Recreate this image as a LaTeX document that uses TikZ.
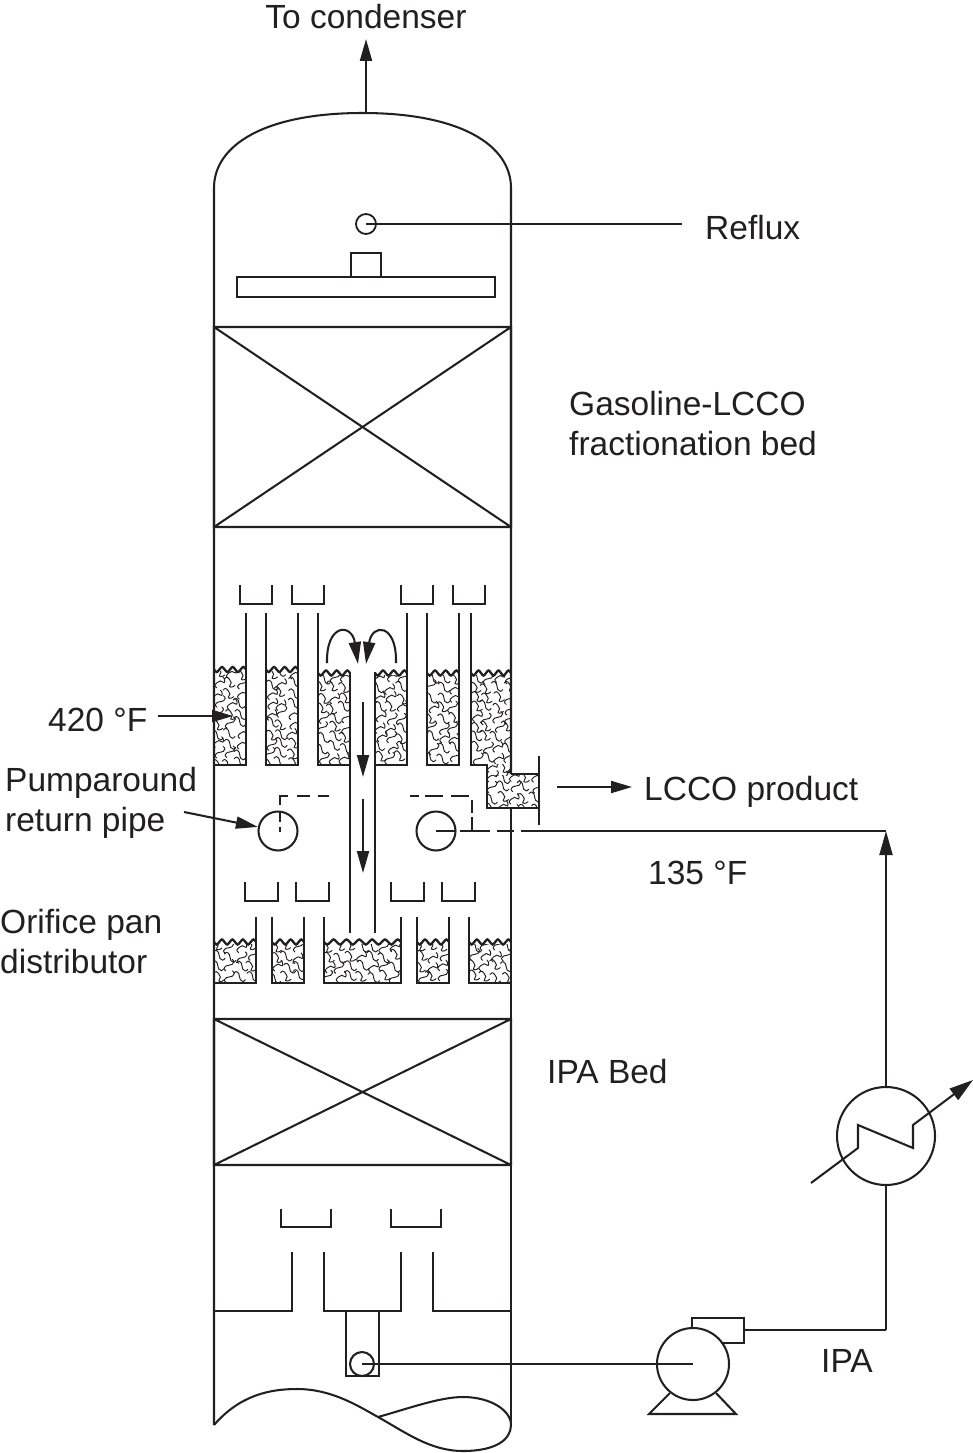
\documentclass[tikz,border=0pt]{standalone}
\usepackage{fontspec}
\setmainfont{Liberation Sans}
\usetikzlibrary{arrows.meta}
\definecolor{ink}{HTML}{231F20}
\tikzset{
  wall/.style={line width=2.05pt,draw=ink,line cap=butt},
  thickwall/.style={line width=2.7pt,draw=ink,line cap=butt,line join=miter},
  thin wall/.style={line width=1.8pt,draw=ink},
  flowarrow/.style={wall,-{Stealth[length=22pt,width=12pt,inset=0pt]}},
  lab/.style={inner sep=0pt,anchor=base west,text=ink,font=\fontsize{33.5}{38}\selectfont},
}
\newcommand{\packing}[4]{%
  \begin{scope}
    \clip (#1,#2) rectangle (#3,#4);
    \foreach \px in {#1,\the\numexpr#1+11\relax,...,#3}{
      \foreach \py in {#2,\the\numexpr#2+10\relax,...,#4}{
        \pgfmathsetmacro{\ax}{\px-4+rnd*4}
        \pgfmathsetmacro{\ay}{\py-3+rnd*4}
        \pgfmathsetmacro{\sgn}{rnd<0.5 ? 1 : -1}
        \pgfmathsetmacro{\rot}{rnd<0.6 ? 0 : 90}
        \draw[line width=0.95pt,draw=ink,line cap=round,rotate around={\rot:(\ax+6,\ay+3)}]
          (\ax,\ay) .. controls +(2,-2.5) and +(-2,-2.5) .. ++(5,0.5)
          .. controls +(2,2.5) and +(-\sgn*2,-2) .. ++(\sgn*0.5+1,6)
          .. controls +(\sgn*2,2) and +(-2,2.5) .. ++(5,0);
      }
    }
  \end{scope}}
% x1, x2, baseline y, number of waves
\newcommand{\scallop}[4]{%
  \pgfmathsetmacro{\st}{(#2-#1)/#4}
  \draw[line width=2.3pt,draw=ink] (#1,#3)
    \foreach \k in {1,...,#4}{
      .. controls +(\st*0.25,3.4) and +(-\st*0.25,3.4) .. ++(\st*0.5,0)
      .. controls +(\st*0.25,-3.4) and +(-\st*0.25,-3.4) .. ++(\st*0.5,0)
    };
  }
\newcommand{\pan}[4]{\draw[thin wall] (#1,#3) -- (#1,#4) -- (#2,#4) -- (#2,#3);}
\begin{document}
\begin{tikzpicture}[x=1pt,y=-1pt]
\pgfmathsetseed{4711}
\useasboundingbox[fill=white] (0,0) rectangle (973,1453);
% shell
\draw[wall] (214,1425) -- (214,188) .. controls (214,145) and (265,113) .. (362.5,113)
  .. controls (460,113) and (511,145) .. (511,188) -- (511,774);
\draw[wall] (511,808) -- (511,1425);
\draw[wall] (214,1425) .. controls (240,1395) and (270,1389) .. (297,1389)
  .. controls (330,1389) and (355,1404) .. (378,1417)
  .. controls (405,1432) and (430,1451) .. (463,1451)
  .. controls (495,1451) and (511,1440) .. (511,1425)
  .. controls (511,1410) and (490,1397) .. (463,1397)
  .. controls (440,1397) and (410,1408) .. (378,1417);
% beds
\foreach \ya/\yb in {327/527,1019/1165}{
  \draw[wall] (214,\ya) rectangle (511,\yb) (214,\ya) -- (511,\yb) (511,\ya) -- (214,\yb);
}
% top internals
\coordinate (condtop) at (366,113);
\node[lab,anchor=base] (cond) at (366,29) {To condenser};
\coordinate (condtip) at (366,39);
\draw[flowarrow] (condtop) -- (condtip);
\node[circle,thin wall,minimum size=20pt,inner sep=0pt] (refluxpipe) at (366,224) {};
\coordinate (refluxend) at (682,224);
\draw[thin wall] (refluxpipe.center) -- (refluxend);
\node[lab] (reflux) at (705,239) {Reflux};
\draw[thin wall] (237,277) rectangle (495,297);
\draw[thin wall] (351,277) -- (351,253) -- (381,253) -- (381,277);
\node[lab] (gas1) at (569,415) {Gasoline-LCCO};
\node[lab] (gas2) at (569,455) {fractionation bed};
% upper pans
\pan{240}{272}{585}{604}\pan{292}{324}{585}{604}\pan{401}{433}{585}{604}\pan{453}{485}{585}{604}
% packing upper
\packing{215}{671}{245}{764}
\packing{267}{671}{297}{764}
\packing{319}{675}{349}{764}
\packing{376}{675}{406}{764}
\packing{428}{675}{458}{764}
\packing{472}{675}{510}{764}
\packing{488}{764}{510}{775}
\packing{488}{775}{538}{807}
\scallop{214}{246}{669.5}{3}
\scallop{266}{298}{669.5}{3}
\scallop{318}{350}{673}{3}
\scallop{375}{407}{673}{3}
\scallop{427}{459}{673}{3}
\scallop{471}{511}{673}{4}
% upper risers
\draw[thickwall] (246,613) -- (246,765) -- (214,765);
\draw[thickwall] (266,613) -- (266,765) -- (298,765) -- (298,613);
\draw[thickwall] (318,613) -- (318,765) -- (350,765);
\draw[thickwall] (350,672) -- (350,933);
\draw[thickwall] (375,672) -- (375,933);
\draw[thickwall] (375,765) -- (407,765) -- (407,613);
\draw[thickwall] (427,613) -- (427,765) -- (459,765) -- (459,613);
\draw[thickwall] (471,613) -- (471,765) -- (487,765) -- (487,808) -- (539,808);
\draw[wall] (511,774) -- (539,774);
\draw[wall] (539,756) -- (539,825);
% inner arrows
\coordinate (a1) at (363,702); \coordinate (a2) at (363,777);
\coordinate (a3) at (363,799); \coordinate (a4) at (363,873);
\draw[flowarrow] (a1) -- (a2);
\draw[flowarrow] (a3) -- (a4);
\coordinate (c1) at (327,663); \coordinate (c2) at (358,664);
\coordinate (c3) at (396,663); \coordinate (c4) at (366,664);
\draw[flowarrow] (c1) .. controls (326,623) and (352,623) .. (c2);
\draw[flowarrow] (c3) .. controls (397,623) and (372,623) .. (c4);
% pumparound
\node[circle,wall,minimum size=39pt,inner sep=0pt] (retL) at (278,831) {};
\node[circle,wall,minimum size=39pt,inner sep=0pt] (retR) at (436,831) {};
\draw[wall] (280,832) -- (280,827) (280,822) -- (280,812)
  (280,805) -- (280,796) -- (288,796) (297,796) -- (310,796) (318,796) -- (329,796);
\draw[wall] (410,796) -- (419,796) (425,796) -- (443,796) (451,796) -- (469,796)
  (472,800) -- (472,813) (472,817) -- (472,831);
\coordinate (retjoin) at (886,831);
\draw[thickwall] (retR.center) -- (456,831) (460,831) -- (490,831) (497,831) -- (514,831);
\draw[thickwall] (521,831) -- (retjoin);
% lower pans
\pan{245}{278}{882}{901}\pan{296}{329}{882}{901}\pan{391}{424}{882}{901}\pan{442}{475}{882}{901}
\packing{215}{944}{255}{982}
\packing{273}{944}{303}{982}
\packing{325}{944}{400}{982}
\packing{418}{944}{448}{982}
\packing{470}{944}{510}{982}
\scallop{214}{256}{942}{4}
\scallop{272}{304}{942}{3}
\scallop{324}{401}{942}{6}
\scallop{417}{449}{942}{3}
\scallop{469}{511}{942}{4}
\draw[thickwall] (214,983) -- (256,983) -- (256,917);
\draw[thickwall] (272,917) -- (272,983) -- (304,983) -- (304,917);
\draw[thickwall] (324,917) -- (324,983) -- (401,983) -- (401,917);
\draw[thickwall] (417,917) -- (417,983) -- (449,983) -- (449,917);
\draw[thickwall] (469,917) -- (469,983) -- (511,983);
% bottom tray
\pan{281}{331}{1209}{1227}\pan{391}{441}{1209}{1227}
\draw[wall] (214,1311) -- (292,1311) -- (292,1252);
\draw[wall] (324,1252) -- (324,1311) -- (401,1311) -- (401,1252);
\draw[wall] (433,1252) -- (433,1311) -- (511,1311);
\draw[wall] (346,1311) -- (346,1376) -- (379,1376) -- (379,1311);
\node[circle,wall,minimum size=24pt,inner sep=0pt] (sump) at (362,1364) {};
% pump
\node[circle,wall,minimum size=72pt,inner sep=0pt] (pump) at (693,1364) {};
\draw[wall] (670,1393) -- (649,1414) -- (736,1414) -- (716,1393);
\draw[wall] (692,1328) -- (692,1318) -- (744,1318) -- (744,1343) -- (721,1343);
\node[circle,wall,minimum size=98pt,inner sep=0pt] (hx) at (886,1136) {};
\coordinate (disch) at (744,1330);
\coordinate (corner) at (886,1330);
\draw[thin wall] (sump.center) -- (pump.center);
\draw[thin wall] (disch) -- (corner);
\draw[wall] (corner) -- (hx.south);
\draw[wall,-{Stealth[length=24pt,width=13pt,inset=0pt]}] (hx.north) -- (retjoin);
\draw[wall,-{Stealth[length=24pt,width=14pt,inset=0pt]}] (811,1183) -- (858,1148) -- (858,1125) -- (913,1148) -- (913,1125) -- (973,1080);
% labels
\node[lab] (t420) at (48,731) {420 °F};
\coordinate (t420e) at (158,716); \coordinate (t420t) at (233,716);
\draw[wall,-{Stealth[length=21pt,width=12pt,inset=0pt]}] (t420e) -- (t420t);
\node[lab] (pr1) at (5,791) {Pumparound};
\node[lab] (pr2) at (5,831) {return pipe};
\coordinate (pre) at (184,812);
\draw[wall,-{Stealth[length=22pt,width=12pt,inset=0pt]}] (pre) -- (retL);
\node[lab] (op1) at (0,933) {Orifice pan};
\node[lab] (op2) at (0,973) {distributor};
\coordinate (lce) at (557,787); \coordinate (lct) at (632,787);
\draw[wall,-{Stealth[length=21pt,width=12pt,inset=0pt]}] (lce) -- (lct);
\node[lab] (lcco) at (644,800) {LCCO product};
\node[lab] (t135) at (648,884) {135 °F};
\node[lab] (ipab) at (547,1083) {IPA Bed};
\node[lab] (ipa) at (821,1372) {IPA};
\end{tikzpicture}
\end{document}
